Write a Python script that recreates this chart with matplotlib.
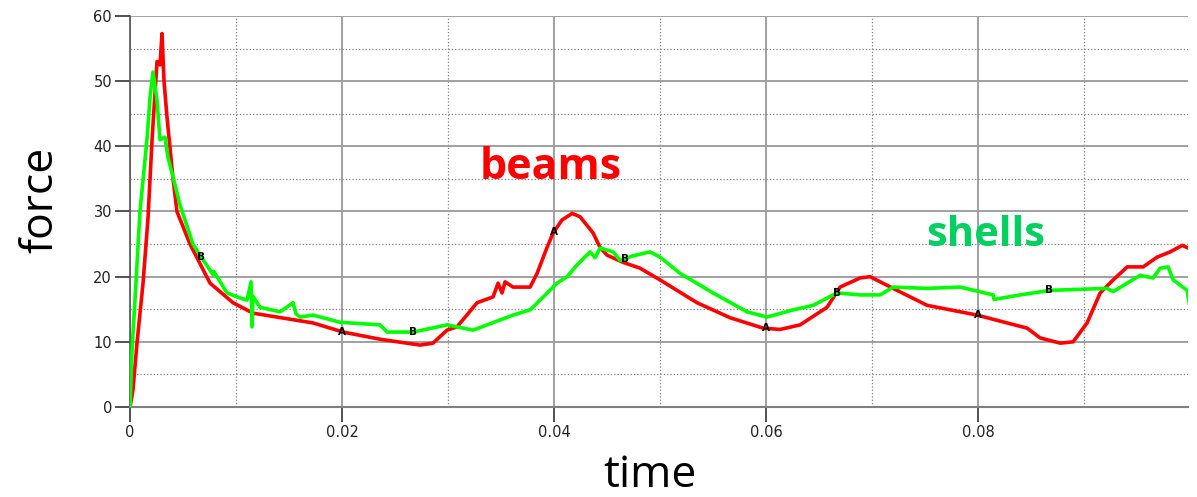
import numpy as np
import matplotlib.pyplot as plt
from matplotlib.ticker import MultipleLocator

# beams (red) curve
beams_t = [0, 0.00028, 0.00066, 0.00123, 0.0017, 0.00208, 0.00255, 0.00283, 0.00302,
           0.00321, 0.00349, 0.00406, 0.00443, 0.00566, 0.00755, 0.00972, 0.0116,
           0.01726, 0.0201, 0.02358, 0.02736, 0.02858, 0.02991, 0.03085, 0.03274,
           0.03425, 0.03472, 0.03509, 0.03538, 0.03613, 0.03774, 0.0384, 0.03934,
           0.03991, 0.04075, 0.0417, 0.04245, 0.04368, 0.04434, 0.045, 0.04651,
           0.04811, 0.05, 0.05349, 0.0566, 0.05972, 0.06132, 0.06321, 0.06575,
           0.06698, 0.06887, 0.06981, 0.07198, 0.07519, 0.07991, 0.08462, 0.08585,
           0.08774, 0.08896, 0.09028, 0.09151, 0.09274, 0.09406, 0.09557, 0.09689,
           0.09811, 0.09925, 0.09981]
beams_f = [0, 2.6, 9.8, 19, 29, 41, 53, 52.5, 57.3,
           50, 44.5, 35, 30, 25, 19, 16, 14.4,
           12.9, 11.5, 10.4, 9.5, 9.8, 11.8, 12.3, 16,
           16.9, 19, 17.5, 19.2, 18.4, 18.4, 20.5, 24.5,
           26.7, 28.7, 29.7, 29.2, 26.7, 24.5, 23.3, 22.2,
           21.3, 19.5, 16, 13.7, 12.1, 11.9, 12.6, 15.3,
           18.4, 19.8, 20, 18.2, 15.6, 14.1, 12.1, 10.6,
           9.8, 10, 12.9, 17.5, 19.5, 21.5, 21.5, 23,
           23.8, 24.8, 24.4]

# shells (green) curve
shells_t = [0, 0.00019, 0.00047, 0.00094, 0.0016, 0.00189, 0.00217, 0.00255, 0.00283,
            0.0033, 0.00358, 0.00406, 0.00472, 0.00594, 0.0066, 0.00783, 0.0079,
            0.00915, 0.01009, 0.01104, 0.01142, 0.01151, 0.0116, 0.01226, 0.01415,
            0.01538, 0.01566, 0.01604, 0.01726, 0.01981, 0.02358, 0.02425, 0.0267,
            0.02991, 0.03236, 0.03368, 0.03613, 0.03774, 0.03868, 0.04028, 0.04123,
            0.04217, 0.0434, 0.04387, 0.04434, 0.04557, 0.04623, 0.04745, 0.04906,
            0.05, 0.05189, 0.055, 0.05821, 0.06009, 0.06255, 0.06443, 0.0667,
            0.06887, 0.07075, 0.07198, 0.07519, 0.0783, 0.08142, 0.0815, 0.08396,
            0.08679, 0.09217, 0.09274, 0.09528, 0.09651, 0.09717, 0.09792, 0.0984,
            0.09972, 0.0999]
shells_f = [0, 8.7, 16.4, 30, 41, 47.5, 51.4, 47, 41,
            41.4, 38.3, 35.3, 31, 25, 23.3, 20.3, 20.8,
            17.5, 16.9, 16.4, 19.2, 12.3, 17, 15.3, 14.6,
            16, 14.3, 13.8, 14.1, 13, 12.6, 11.5, 11.5,
            12.6, 11.8, 12.6, 14.1, 14.9, 16.4, 19, 20,
            21.8, 23.8, 22.9, 24.4, 23.8, 22.5, 23.2, 23.8,
            23, 20.5, 17.5, 14.6, 13.8, 14.9, 15.6, 17.5,
            17.2, 17.2, 18.4, 18.2, 18.4, 17.2, 16.5, 17.2,
            17.9, 18.2, 17.7, 20.2, 19.8, 21.3, 21.5, 19.5,
            17.9, 16]

# curve id labels (LS-PrePost style)
a_times = [0.02, 0.04, 0.06, 0.08]
b_times = [0.0067, 0.0267, 0.0467, 0.0667, 0.0867]

fig = plt.figure(figsize=(11.97, 4.97), dpi=100)
ax = fig.add_axes([0.1086, 0.1811, 0.8839, 0.7867])

ax.plot(beams_t, beams_f, color='#ff0000', lw=2.6, zorder=3)
ax.plot(shells_t, shells_f, color='#00ff00', lw=2.6, zorder=4)

for t in a_times:
    ax.text(t, np.interp(t, beams_t, beams_f), 'A', fontsize=7.5, fontweight='bold',
            ha='center', va='center', zorder=5)
for t in b_times:
    ax.text(t, np.interp(t, shells_t, shells_f), 'B', fontsize=7.5, fontweight='bold',
            ha='center', va='center', zorder=5)

ax.set_xlim(0, 0.0998)
ax.set_ylim(0, 60)
ax.xaxis.set_major_locator(MultipleLocator(0.02))
ax.xaxis.set_minor_locator(MultipleLocator(0.01))
ax.yaxis.set_major_locator(MultipleLocator(10))
ax.yaxis.set_minor_locator(MultipleLocator(5))
ax.set_xticks([0, 0.02, 0.04, 0.06, 0.08])
ax.set_xticklabels(['0', '0.02', '0.04', '0.06', '0.08'])

ax.grid(which='major', color='#a0a0a0', lw=1.4, ls='-')
ax.grid(which='minor', color='#808080', lw=0.9, ls=':')
ax.set_axisbelow(True)

for s in ['top', 'right']:
    ax.spines[s].set_visible(False)
ax.spines['left'].set_color('#555555')
ax.spines['bottom'].set_color('#808080')
ax.spines['left'].set_linewidth(1.2)
ax.spines['bottom'].set_linewidth(1.5)
ax.tick_params(which='major', direction='out', length=11, width=1.2, color='#333333',
               labelsize=10.5, labelcolor='#222222', pad=2)
ax.tick_params(which='minor', length=0)

fig.text(0.034, 0.598, 'force', rotation=90, fontsize=32, family='Open Sans',
         ha='center', va='center')
fig.text(0.543, 0.042, 'time', fontsize=32, family='Open Sans', ha='center', va='center')
fig.text(0.46, 0.662, 'beams', fontsize=31, fontweight='bold', family='Open Sans',
         color='#ff0000', ha='center', va='center')
fig.text(0.823, 0.527, 'shells', fontsize=30, fontweight='bold', family='Open Sans',
         color='#00d060', ha='center', va='center')

fig.savefig('out.png', dpi=100)
